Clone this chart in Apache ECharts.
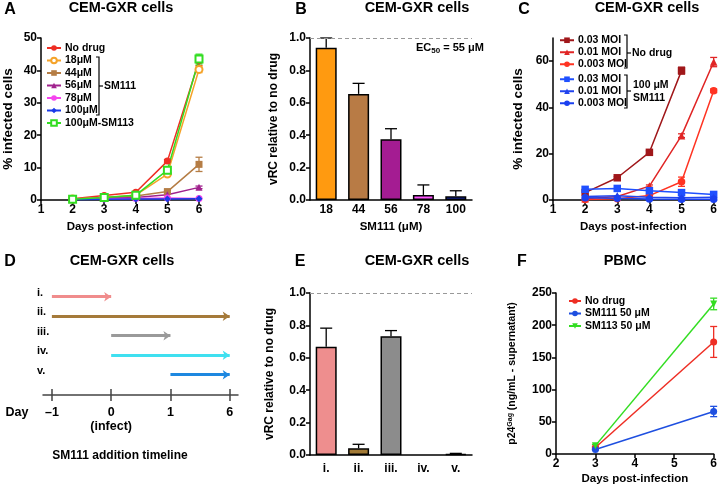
<!DOCTYPE html>
<html><head><meta charset="utf-8">
<script src="https://cdn.jsdelivr.net/npm/echarts@6/dist/echarts.min.js"></script>
<style>html,body{margin:0;padding:0;background:#fff}#c{width:720px;height:487px}</style>
</head><body><div id="c"></div>
<script>
// ---------- Panel A data ----------
const aDays = [2,3,4,5,6];
const aLabels = ['No drug','18μM','44μM','56μM','78μM','100μM','100μM-SM113'];
const aNoDrug = [0.4,1.4,2.4,12,43];
const a18 = [0.3,0.8,1.5,8,40.3];
const a44 = [0.3,0.7,1.2,2.6,11];
const a56 = [0.2,0.5,0.8,1.6,3.9];
const a78 = [0.2,0.3,0.5,0.6,0.5];
const a100 = [0.1,0.2,0.3,0.3,0.4];
const aSM113 = [0.2,0.8,1.5,9.2,43.5];
const aNoDrugSD = [0,0,0.3,0.5,1.5];
const a18SD = [0,0,0,0.5,1];
const a44SD = [0,0,0,0.4,2.2];
const a56SD = [0,0,0,0,0.4];
const aSM113SD = [0,0,0,1,1.5];
// ---------- Panel B data ----------
const bCats = ['18','44','56','78','100'];
const bVals = [0.94,0.655,0.375,0.031,0.023];
const bErr = [0.06,0.065,0.065,0.062,0.034];
const bColors = ['#ff9a10','#b87b45','#a41c92','#ff55ff','#1a30c8'];
// ---------- Panel C data ----------
const cDays = [2,3,4,5,6];
const cLabels = ['0.03 MOI','0.01 MOI','0.003 MOI','0.03 MOI','0.01 MOI','0.003 MOI'];
const cND03 = [3.2,9.6,20.6,55.9,null];
const cND01 = [0.5,1.5,6,27.8,59.6];
const cND003 = [0.2,0.5,1.9,7.9,47.2];
const cSM03 = [4.6,5,4,3.2,2.4];
const cSM01 = [1.5,1.8,1.2,1.0,1.2];
const cSM003 = [1.0,0.8,0.4,0.3,0.3];
const cND03SD = [0,0.5,0.7,1.5,0];
const cND01SD = [0,0,0.5,0.8,2];
const cND003SD = [0,0,0.4,2,0.8];
const cYTicks = [0,20,40,60];
// ---------- Panel D data ----------
const dRows = ['i.','ii.','iii.','iv.','v.'];
const dStart = [-1,-1,0,0,1];
const dEnd = [0,6,1,6,6];
const dDayTicks = [-1,0,1,6];
const dDayLabels = ['–1','0\n(infect)','1','6'];
const dColors = ['#f08c8c','#a57a3a','#9a9a9a','#3fe0f0','#1e88e0'];
// ---------- Panel E data ----------
const eCats = ['i.','ii.','iii.','iv.','v.'];
const eVals = [0.668,0.041,0.733,0,0.005];
const eErr = [0.115,0.025,0.035,0,0.005];
const eColors = ['#ee8e8e','#a27a36','#8c8c8c','#3fe0f0','#1e3a8a'];
// ---------- Panel F data ----------
const fDays = [3,6];
const fLabels = ['No drug','SM111 50 μM','SM113 50 μM'];
const fNoDrug = [10,174];
const fSM111 = [7,66];
const fSM113 = [13,233];
const fNoDrugSD = [2,24];
const fSM111SD = [1,8];
const fSM113SD = [2,9];

const FONT = "'Liberation Sans', Arial, Helvetica, sans-serif";
const K = '#000';

function merge(a,b){const o=Object.assign({},a);for(const k in b){if(b[k]&&typeof b[k]==='object'&&!Array.isArray(b[k])&&a[k]&&typeof a[k]==='object'){o[k]=merge(a[k],b[k]);}else o[k]=b[k];}return o;}
const axisBase = {
  axisLine:{show:true,onZero:false,lineStyle:{color:K,width:1.5}},
  axisTick:{show:true,length:4,lineStyle:{color:K,width:1.5}},
  axisLabel:{color:K,fontWeight:'bold',fontSize:12,fontFamily:FONT,margin:4},
  splitLine:{show:false},
  nameTextStyle:{color:K,fontWeight:'bold',fontFamily:FONT,fontSize:12}
};
function ax(o){return merge(axisBase,o);}

function errPts(xs, vals, sds){
  const out=[];
  xs.forEach((x,i)=>{ if(vals[i]!=null && sds[i]>0) out.push([x, vals[i]-sds[i], vals[i]+sds[i]]); });
  return out;
}
function errSeries(xi, yi, pts, color, capW, upOnly){
  return {type:'custom', xAxisIndex:xi, yAxisIndex:yi, data:pts, encode:{x:0,y:[1,2]}, z:4, silent:true,
    renderItem:function(params, api){
      const x=api.value(0), lo=api.value(1), hi=api.value(2);
      const a=api.coord([x,lo]), b=api.coord([x,hi]); const w=capW/2;
      const st={stroke:color,lineWidth:1.3};
      const ch=[{type:'line',shape:{x1:a[0],y1:a[1],x2:b[0],y2:b[1]},style:st},
                {type:'line',shape:{x1:b[0]-w,y1:b[1],x2:b[0]+w,y2:b[1]},style:st}];
      if(!upOnly) ch.push({type:'line',shape:{x1:a[0]-w,y1:a[1],x2:a[0]+w,y2:a[1]},style:st});
      return {type:'group',children:ch};
    }};
}
function lineSeries(name, xi, yi, xs, vals, color, symbol, size, rot){
  return {type:'line', name:name, xAxisIndex:xi, yAxisIndex:yi,
    data: xs.map((x,i)=>[x, vals[i]]), connectNulls:false,
    symbol:symbol, symbolSize:size||6, symbolRotate:rot||0, showSymbol:true,
    lineStyle:{color:color,width:1.5}, itemStyle:{color:color, borderColor:color, borderWidth: symbol.indexOf('empty')===0?1.5:0},
    z:5};
}
function legendOf(names, labels, left, top, gap, itemW, lh){
  const map={}; names.forEach((n,i)=>map[n]=labels[i]);
  return {data:names, left:left, top:top, orient:'vertical', padding:0, itemGap:gap, itemWidth:itemW, itemHeight:7,
    selectedMode:false, formatter:n=>map[n],
    textStyle:{color:K,fontWeight:'bold',fontSize:10.5,fontFamily:FONT,lineHeight:lh, padding:[0,0,0,-1]}};
}

const aColors = ['#ee2e24','#f5a329','#b57d45','#a0228d','#f545ee','#1a3ae8','#33dd22'];
const aSyms = ['circle','emptyCircle','rect','triangle','circle','diamond','emptyRect'];
const aSeriesVals = [aNoDrug,a18,a44,a56,a78,a100,aSM113];
const aSeriesSD = [aNoDrugSD,a18SD,a44SD,a56SD,null,null,aSM113SD];
const aNames = aLabels.map((_,i)=>'a'+i);

const cColors = ['#a0171a','#e02525','#ff3322','#1f50ff','#2244ee','#1a40f0'];
const cSyms = ['rect','triangle','circle','rect','triangle','circle'];
const cSeriesVals = [cND03,cND01,cND003,cSM03,cSM01,cSM003];
const cSeriesSD = [cND03SD,cND01SD,cND003SD,null,null,null];
const cNames = cLabels.map((_,i)=>'c'+i);

const fColors = ['#ee2e24','#1e4fe0','#33dd22'];
const fSyms = ['circle','circle','triangle'];
const fRot = [0,0,180];
const fSeriesVals = [fNoDrug,fSM111,fSM113];
const fSeriesSD = [fNoDrugSD,fSM111SD,fSM113SD];
const fNames = fLabels.map((_,i)=>'f'+i);

const series = [];
aSeriesVals.forEach((v,i)=>{
  series.push(lineSeries(aNames[i],0,0,aDays,v,aColors[i],aSyms[i],7));
  if(aSeriesSD[i]) series.push(errSeries(0,0,errPts(aDays,v,aSeriesSD[i]),aColors[i],7,false));
});
series.push({type:'bar', xAxisIndex:1, yAxisIndex:1, barWidth:21,
  data:bVals.map((v,i)=>({value:v,itemStyle:{color:bColors[i]}})),
  itemStyle:{borderColor:K,borderWidth:1.5}, z:3,
  markLine:{silent:true,symbol:'none',label:{show:false},lineStyle:{color:'#999',type:[4,3],width:1.2},data:[{yAxis:1}]}});
series.push(errSeries(1,1,bVals.map((v,i)=>[i,v,v+bErr[i]]),K,12,true));
cSeriesVals.forEach((v,i)=>{
  series.push(lineSeries(cNames[i],2,2,cDays,v,cColors[i],cSyms[i],7.5));
  if(cSeriesSD[i]) series.push(errSeries(2,2,errPts(cDays,v,cSeriesSD[i]),cColors[i],7,false));
});
series.push({type:'lines', coordinateSystem:'cartesian2d', xAxisIndex:3, yAxisIndex:3,
  symbol:['none','arrow'], symbolSize:7, z:3,
  data:dRows.map((r,i)=>({coords:[[dDayTicks.indexOf(dStart[i]),i],[dDayTicks.indexOf(dEnd[i]),i]],
    lineStyle:{color:dColors[i],width:3}})),
  lineStyle:{width:3,opacity:1}});
series.push({type:'bar', xAxisIndex:5, yAxisIndex:4, barWidth:21,
  data:eVals.map((v,i)=>({value:v,itemStyle:{color:eColors[i], borderWidth: v>0?1.5:0}})),
  itemStyle:{borderColor:K,borderWidth:1.5}, z:3,
  markLine:{silent:true,symbol:'none',label:{show:false},lineStyle:{color:'#999',type:[4,3],width:1.2},data:[{yAxis:1}]}});
series.push(errSeries(5,4,eVals.map((v,i)=>[i,v,v+eErr[i]]).filter(p=>p[2]>p[1]),K,12,true));
fSeriesVals.forEach((v,i)=>{
  series.push(lineSeries(fNames[i],6,5,fDays,v,fColors[i],fSyms[i],7,fRot[i]));
  series.push(errSeries(6,5,errPts(fDays,v,fSeriesSD[i]),fColors[i],7,false));
});

function txt(t,x,y,size,align,extra){
  return Object.assign({type:'text',x:x,y:y,silent:true,style:{text:t,font:'bold '+size+'px '+FONT,fill:K,align:align||'center',verticalAlign:'middle',textAlign:align||'center',textVerticalAlign:'middle'}},extra||{});
}
function poly(pts){return {type:'polyline',silent:true,shape:{points:pts},style:{stroke:K,lineWidth:1.2,fill:null}};}

const graphics = [
  txt('A',10,10,16), txt('B',301,10,16), txt('C',524,10,16),
  txt('D',10,262,16), txt('E',300,262,16), txt('F',522,262,16),
  txt('CEM-GXR cells',121,8,14.5), txt('CEM-GXR cells',417,8,14.5), txt('CEM-GXR cells',647,8,14.5),
  txt('CEM-GXR cells',122,261,14.5), txt('CEM-GXR cells',417,261,14.5), txt('PBMC',625,261,14.5),
  // A bracket
  poly([[96,57],[99,57],[99,115],[96,115]]), poly([[99,86],[103,86]]), txt('SM111',104,86,10.5,'left'),
  // C brackets
  poly([[624,35],[627,35],[627,68],[624,68]]), poly([[627,53],[631,53]]), txt('No drug',632,53,10.5,'left'),
  poly([[624,75],[627,75],[627,108],[624,108]]), poly([[627,91],[631,91]]), txt('100 μM',633,85,10.5,'left'), txt('SM111',633,98,10.5,'left'),
  // EC50
  {type:'text',x:416,y:48,silent:true,style:{text:'{n|EC}{s|50}{n| = 55 μM}',align:'left',verticalAlign:'middle',textAlign:'left',textVerticalAlign:'middle',
    rich:{n:{font:'bold 11px '+FONT,fill:K,lineHeight:14},s:{font:'bold 8px '+FONT,fill:K,lineHeight:6,verticalAlign:'bottom'}}}},
  // D texts
  txt('Day',17,413,12.5), txt('SM111 addition timeline',120,456,12)
];

const opt = {
  animation:false,
  backgroundColor:'#fff',
  grid:[
    {left:38,top:38,width:161,height:162},
    {left:310,top:38,width:162,height:162},
    {left:553,top:38,width:161,height:162},
    {left:43,top:287,width:195,height:108},
    {left:310,top:293,width:162,height:162},
    {left:556,top:293,width:160,height:161}
  ],
  xAxis:[
    ax({type:'value',gridIndex:0,min:1,max:6,interval:1,name:'Days post-infection',nameLocation:'middle',nameGap:21,nameTextStyle:{fontSize:11.5}}),
    ax({type:'category',gridIndex:1,data:bCats,axisTick:{show:false},name:'SM111 (μM)',nameLocation:'middle',nameGap:21,nameTextStyle:{fontSize:11.5}}),
    ax({type:'value',gridIndex:2,min:1,max:6,interval:1,name:'Days post-infection',nameLocation:'middle',nameGap:21,nameTextStyle:{fontSize:11.5}}),
    ax({type:'value',gridIndex:3,position:'bottom',min:-0.15,max:3.14,axisLine:{lineStyle:{color:'#444',width:1.5}},
        axisTick:{length:6,customValues:[0,1,2,3],lineStyle:{color:'#444',width:1.5}},
        axisLabel:{customValues:[0,1,2,3],formatter:v=>dDayLabels[Math.round(v)],margin:11,fontSize:12.5,lineHeight:14}}),
    ax({type:'value',gridIndex:3,position:'bottom',offset:0,min:-0.15,max:3.14,axisLine:{show:false},
        axisTick:{inside:true,length:6,customValues:[0,1,2,3],lineStyle:{color:'#444',width:1.5}},
        axisLabel:{show:false}}),
    ax({type:'category',gridIndex:4,data:eCats,axisTick:{show:false},axisLabel:{margin:8}}),
    ax({type:'value',gridIndex:5,min:2,max:6,interval:1,name:'Days post-infection',nameLocation:'middle',nameGap:19,nameTextStyle:{fontSize:11.5}})
  ],
  yAxis:[
    ax({type:'value',gridIndex:0,min:0,max:50,interval:10,name:'% infected cells',nameLocation:'middle',nameGap:26,nameTextStyle:{fontSize:13.5}}),
    ax({type:'value',gridIndex:1,min:0,max:1,interval:0.2,axisLabel:{formatter:v=>v.toFixed(1)},name:'vRC relative to no drug',nameLocation:'middle',nameGap:30,nameTextStyle:{fontSize:12}}),
    ax({type:'value',gridIndex:2,min:0,max:70,axisTick:{customValues:cYTicks},axisLabel:{customValues:cYTicks},name:'% infected cells',nameLocation:'middle',nameGap:28,nameTextStyle:{fontSize:13.5}}),
    ax({type:'value',gridIndex:3,min:-0.5,max:5.04,inverse:true,axisLine:{show:false},axisTick:{show:false},
        axisLabel:{customValues:[0,1,2,3,4],formatter:v=>dRows[Math.round(v)],align:'left',verticalAlign:'bottom',lineHeight:8,margin:6,fontSize:11}}),
    ax({type:'value',gridIndex:4,min:0,max:1,interval:0.2,axisLabel:{formatter:v=>v.toFixed(1)},name:'vRC relative to no drug',nameLocation:'middle',nameGap:34,nameTextStyle:{fontSize:12}}),
    ax({type:'value',gridIndex:5,min:0,max:250,interval:50,name:'{n|p24}{sup|Gag}{n| (ng/mL - supernatant)}',nameLocation:'middle',nameGap:38,
        nameTextStyle:{fontSize:10.5,rich:{n:{fontSize:10.5,fontWeight:'bold',fontFamily:FONT,color:K},sup:{fontSize:7,fontWeight:'bold',fontFamily:FONT,color:K,verticalAlign:'top',lineHeight:8}}}})
  ],
  legend:[
    legendOf(aNames,aLabels,46,42,0.5,14,12),
    legendOf(cNames.slice(0,3),cLabels.slice(0,3),559,34.5,0.5,14,11.5),
    legendOf(cNames.slice(3),cLabels.slice(3),559,73.5,0.5,14,11.5),
    legendOf(fNames,fLabels,568,295,0.5,12,12)
  ],
  graphic:graphics,
  series:series
};
const chart = echarts.init(document.getElementById('c'),null,{renderer:'canvas'});
chart.setOption(opt);
</script></body></html>
